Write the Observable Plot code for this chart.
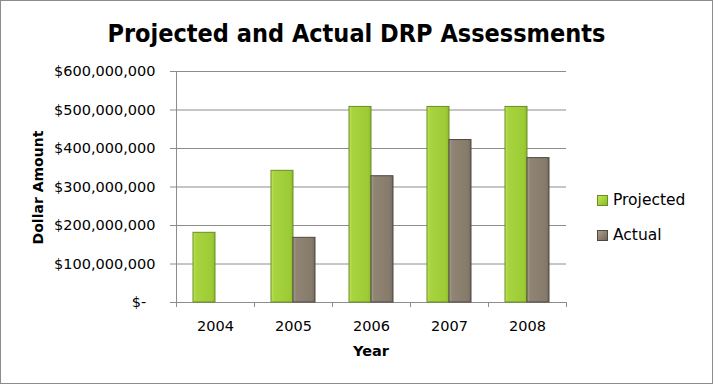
<!DOCTYPE html>
<html><head><meta charset="utf-8">
<script src="https://cdn.jsdelivr.net/npm/d3@7"></script>
<script src="https://cdn.jsdelivr.net/npm/@observablehq/plot@0.6"></script>
<style>
body{margin:0;background:#fff;}
#chart{position:relative;width:713px;height:384px;overflow:hidden;font-family:"DejaVu Sans",sans-serif;color:#000;background:#fff;}
#border{position:absolute;left:0;top:0;width:711px;height:382px;border:1px solid #8c8c8c;pointer-events:none;z-index:5;}
#title{position:absolute;left:0;top:19px;width:713px;text-align:center;font-family:"DejaVu Sans Condensed","DejaVu Sans",sans-serif;font-stretch:condensed;font-weight:bold;font-size:25px;line-height:30px;white-space:nowrap;}
#plot{position:absolute;left:0;top:62px;}
#ylabel{position:absolute;left:-62px;top:178.5px;width:200px;text-align:center;font-weight:bold;font-size:14px;line-height:17px;transform:rotate(-90deg);transform-origin:center;white-space:nowrap;}
#xlabel{position:absolute;left:321px;top:342.5px;width:100px;text-align:center;font-weight:bold;font-size:14.5px;line-height:17px;}
#legend{position:absolute;left:597px;top:190px;font-size:15.5px;}
.item{display:flex;align-items:center;height:20px;margin-bottom:15px;}
.sw{width:9px;height:9px;margin-right:5px;}
</style>
</head><body>
<div id="chart">
  <div id="title">Projected and Actual DRP Assessments</div>
  <div id="plot"></div>
  <div id="ylabel">Dollar Amount</div>
  <div id="xlabel">Year</div>
  <div id="legend"></div>
  <div id="border"></div>
</div>
<script>
const years = ["2004", "2005", "2006", "2007", "2008"];
const seriesNames = ["Projected", "Actual"];
const projected = [181e6, 342e6, 508e6, 508e6, 508e6];
const actual = [null, 168e6, 328e6, 422e6, 375e6];
const yTicks = [0, 1e8, 2e8, 3e8, 4e8, 5e8, 6e8];

const colors = {
  Projected: {id: "gGreen", stops: ["#c2e460", "#a8d43e", "#9ccb36", "#8cba2c"], stroke: "#6a8d22"},
  Actual: {id: "gGray", stops: ["#aaa092", "#908575", "#867b6b", "#72685a"], stroke: "#4f483e"}
};

const rowsP = years.map((y, i) => ({year: y, series: "Projected", value: projected[i]}));
const rowsA = years.map((y, i) => ({year: y, series: "Actual", value: actual[i]})).filter(d => d.value != null);

const W = 713, H = 322, mL = 176, mR = 147, mT = 9, mB = 82;
const half = (W - mL - mR) / years.length / 2;
const axisColor = "#8c8c8c";
const fmt = d3.format("$,");

const plot = Plot.plot({
  width: W, height: H,
  marginLeft: mL, marginRight: mR, marginTop: mT, marginBottom: mB,
  style: {fontFamily: "DejaVu Sans, sans-serif", fontSize: "14.5px", color: "#000", background: "transparent", overflow: "visible"},
  x: {domain: years, padding: 0, label: null},
  y: {domain: [0, 6e8], label: null},
  marks: [
    Plot.gridY(yTicks, {stroke: axisColor, strokeOpacity: 1}),
    Plot.axisY(yTicks, {tickSize: 6, tickPadding: 15, stroke: axisColor, fill: "#000", label: null,
      tickFormat: d => d === 0 ? "$-\u00a0\u00a0" : fmt(d)}),
    Plot.ruleX([years[0]], {dx: -half, stroke: axisColor}),
    Plot.ruleX(years, {dx: -half, y1: d => 0, y2: d => 0, insetBottom: -5, stroke: axisColor}),
    Plot.ruleX([years[years.length - 1]], {dx: half, y1: d => 0, y2: d => 0, insetBottom: -5, stroke: axisColor}),
    Plot.ruleY([0], {stroke: axisColor}),
    Plot.barY(rowsP, {x: "year", y: "value", fill: `url(#${colors.Projected.id})`, stroke: colors.Projected.stroke, strokeWidth: 1, insetLeft: 17, insetRight: 39}),
    Plot.barY(rowsA, {x: "year", y: "value", fill: `url(#${colors.Actual.id})`, stroke: colors.Actual.stroke, strokeWidth: 1, insetLeft: 39, insetRight: 17}),
    Plot.axisX({tickSize: 0, tickPadding: 18, label: null, fill: "#000"})
  ]
});

const defs = d3.select(plot).insert("defs", ":first-child");
for (const s of seriesNames) {
  const c = colors[s];
  const g = defs.append("linearGradient").attr("id", c.id).attr("x1", "0").attr("x2", "1").attr("y1", "0").attr("y2", "0");
  [0, 0.14, 0.86, 1].forEach((o, k) => g.append("stop").attr("offset", o).attr("stop-color", c.stops[k]));
}
document.getElementById("plot").appendChild(plot);

const legend = d3.select("#legend");
for (const s of seriesNames) {
  const c = colors[s];
  const item = legend.append("div").attr("class", "item");
  item.append("div").attr("class", "sw")
    .style("background", `linear-gradient(135deg, ${c.stops[0]} 0%, ${c.stops[1]} 45%, ${c.stops[3]} 100%)`)
    .style("border", `1px solid ${c.stroke}`);
  item.append("span").text(s);
}
</script>
</body></html>
